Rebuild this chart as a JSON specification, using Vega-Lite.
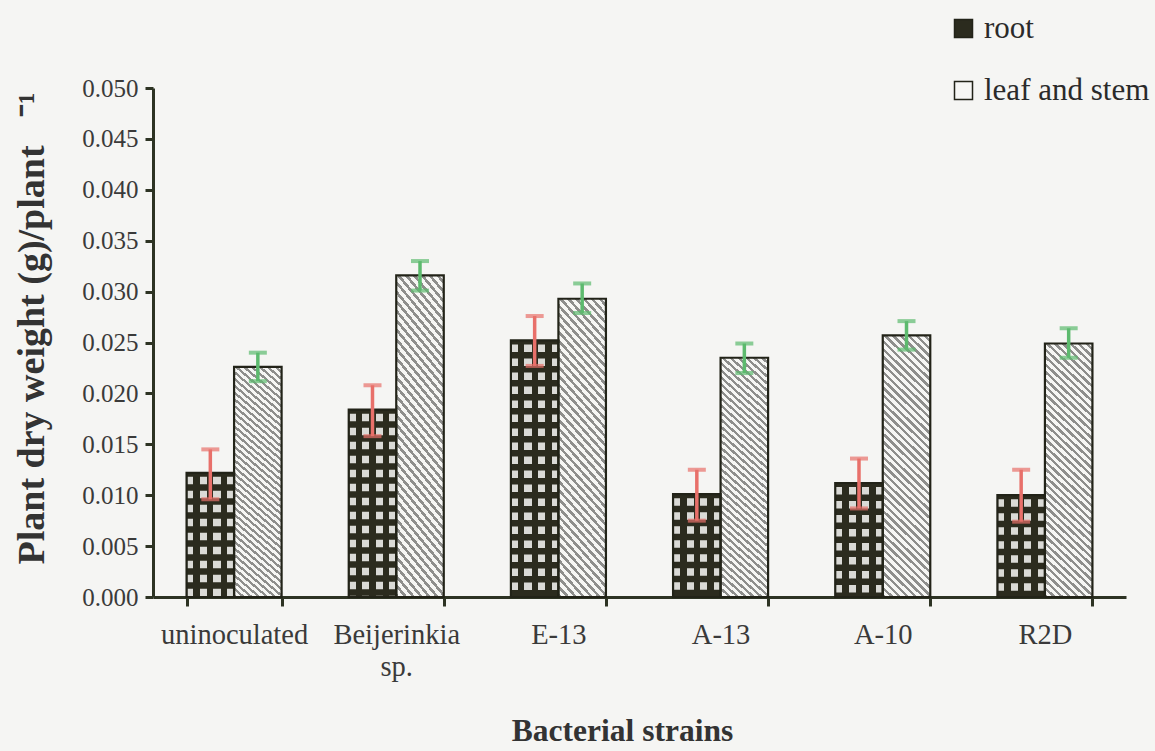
{
  "$schema": "https://vega.github.io/schema/vega-lite/v6.json",
  "width": 973,
  "height": 509,
  "autosize": {"type": "none"},
  "padding": {"left": 153, "top": 88, "right": 29, "bottom": 154},
  "background": "#f5f5f3",
  "config": {
    "view": {"stroke": null},
    "font": "Liberation Serif",
    "axis": {"grid": false, "domainColor": "#2d3323", "tickColor": "#2d3323", "labelColor": "#3a3a3a", "titleColor": "#333333", "labelFont": "Liberation Serif", "titleFont": "Liberation Serif"}
  },
  "data": {
    "values": [
      {"strain": "uninoculated", "part": "root", "value": 0.0122, "lo": 0.0096, "hi": 0.0145},
      {"strain": "uninoculated", "part": "leaf and stem", "value": 0.0226, "lo": 0.0212, "hi": 0.0240},
      {"strain": "Beijerinkia sp.", "part": "root", "value": 0.0184, "lo": 0.0158, "hi": 0.0208},
      {"strain": "Beijerinkia sp.", "part": "leaf and stem", "value": 0.0316, "lo": 0.0301, "hi": 0.0330},
      {"strain": "E-13", "part": "root", "value": 0.0252, "lo": 0.0227, "hi": 0.0276},
      {"strain": "E-13", "part": "leaf and stem", "value": 0.0293, "lo": 0.0279, "hi": 0.0308},
      {"strain": "A-13", "part": "root", "value": 0.0101, "lo": 0.0075, "hi": 0.0125},
      {"strain": "A-13", "part": "leaf and stem", "value": 0.0235, "lo": 0.0220, "hi": 0.0249},
      {"strain": "A-10", "part": "root", "value": 0.0112, "lo": 0.0087, "hi": 0.0136},
      {"strain": "A-10", "part": "leaf and stem", "value": 0.0257, "lo": 0.0243, "hi": 0.0271},
      {"strain": "R2D", "part": "root", "value": 0.0100, "lo": 0.0074, "hi": 0.0125},
      {"strain": "R2D", "part": "leaf and stem", "value": 0.0249, "lo": 0.0235, "hi": 0.0264}
    ]
  },
  "encoding": {
    "x": {
      "field": "strain", "type": "nominal",
      "sort": ["uninoculated", "Beijerinkia sp.", "E-13", "A-13", "A-10", "R2D"],
      "scale": {"paddingInner": 0.414, "paddingOuter": 0.207},
      "axis": {
        "title": "Bacterial strains", "titleFontSize": 31.5, "titleFontWeight": "bold", "titlePadding": 35,
        "titleX": 469, "titleAnchor": "start", "titleAlign": "center",
        "labelFontSize": 28.5, "labelAngle": 0, "labelPadding": 14, "labelLineHeight": 32,
        "labelExpr": "datum.value == 'Beijerinkia sp.' ? ['Beijerinkia', 'sp.'] : datum.value",
        "tickSize": 9, "tickWidth": 3, "tickBand": "extent", "domainWidth": 3
      }
    },
    "xOffset": {"field": "part", "type": "nominal", "sort": ["root", "leaf and stem"], "scale": {"paddingInner": 0}},
    "y": {
      "field": "value", "type": "quantitative",
      "title": "Plant dry weight (g)/plant\u00a0\u00a0\u00a0⁻¹",
      "scale": {"domain": [0, 0.05]},
      "axis": {
        "titleFontSize": 38, "titleFontWeight": "bold", "titlePadding": 30,
        "titleY": 240, "titleAnchor": "start", "titleAlign": "center",
        "values": [0, 0.005, 0.01, 0.015, 0.02, 0.025, 0.03, 0.035, 0.04, 0.045, 0.05],
        "format": ".3f", "labelFontSize": 25, "labelPadding": 7,
        "tickSize": 8, "tickWidth": 3, "domainWidth": 3
      }
    }
  },
  "layer": [
    {
      "mark": {"type": "bar"},
      "encoding": {
        "fill": {
          "field": "part", "type": "nominal",
          "scale": {"domain": ["root", "leaf and stem"], "range": ["#2b2b1e", "#f6f6f4"]},
          "legend": {
            "title": null, "orient": "none", "legendX": 795, "legendY": -75, "direction": "vertical",
            "labelFont": "Liberation Serif", "labelFontSize": 31, "labelColor": "#2a2a2a", "labelOffset": 5, "labelLimit": 400,
            "symbolType": "square", "symbolSize": 324, "symbolStrokeColor": "#222318", "symbolStrokeWidth": 1.5,
            "rowPadding": 30
          }
        }
      }
    },
    {
      "transform": [{"filter": "datum.part == 'root'"}],
      "mark": {"type": "rule", "stroke": "#dadad6", "strokeWidth": 46, "strokeDash": [7.5, 6.5], "strokeDashOffset": 10, "strokeCap": "butt"},
      "encoding": {
        "y2": {"datum": 0}
      }
    },
    {
      "transform": [{"filter": "datum.part == 'root'"}],
      "mark": {
        "type": "bar",
        "fill": {
          "gradient": "linear", "x1": 0, "y1": 0, "x2": 1, "y2": 0,
          "stops": [
            {"offset": 0, "color": "rgba(43,43,30,0)"},
            {"offset": 0.145, "color": "rgba(43,43,30,0)"},
            {"offset": 0.145, "color": "rgba(43,43,30,1)"},
            {"offset": 0.285, "color": "rgba(43,43,30,1)"},
            {"offset": 0.285, "color": "rgba(43,43,30,0)"},
            {"offset": 0.435, "color": "rgba(43,43,30,0)"},
            {"offset": 0.435, "color": "rgba(43,43,30,1)"},
            {"offset": 0.565, "color": "rgba(43,43,30,1)"},
            {"offset": 0.565, "color": "rgba(43,43,30,0)"},
            {"offset": 0.715, "color": "rgba(43,43,30,0)"},
            {"offset": 0.715, "color": "rgba(43,43,30,1)"},
            {"offset": 0.855, "color": "rgba(43,43,30,1)"},
            {"offset": 0.855, "color": "rgba(43,43,30,0)"},
            {"offset": 1, "color": "rgba(43,43,30,0)"}
          ]
        }
      }
    },
    {
      "transform": [{"filter": "datum.part == 'leaf and stem'"}],
      "mark": {
        "type": "bar",
        "fill": {
          "gradient": "linear", "x1": 0, "y1": 1, "x2": 0.203, "y2": -0.142,
          "stops": [
            {"offset": 0, "color": "#8e8e8c"}, {"offset": 0.011, "color": "#8e8e8c"}, {"offset": 0.011, "color": "#f6f6f4"}, {"offset": 0.025, "color": "#f6f6f4"},
            {"offset": 0.025, "color": "#8e8e8c"}, {"offset": 0.036, "color": "#8e8e8c"}, {"offset": 0.036, "color": "#f6f6f4"}, {"offset": 0.05, "color": "#f6f6f4"},
            {"offset": 0.05, "color": "#8e8e8c"}, {"offset": 0.061, "color": "#8e8e8c"}, {"offset": 0.061, "color": "#f6f6f4"}, {"offset": 0.075, "color": "#f6f6f4"},
            {"offset": 0.075, "color": "#8e8e8c"}, {"offset": 0.086, "color": "#8e8e8c"}, {"offset": 0.086, "color": "#f6f6f4"}, {"offset": 0.1, "color": "#f6f6f4"},
            {"offset": 0.1, "color": "#8e8e8c"}, {"offset": 0.111, "color": "#8e8e8c"}, {"offset": 0.111, "color": "#f6f6f4"}, {"offset": 0.125, "color": "#f6f6f4"},
            {"offset": 0.125, "color": "#8e8e8c"}, {"offset": 0.136, "color": "#8e8e8c"}, {"offset": 0.136, "color": "#f6f6f4"}, {"offset": 0.15, "color": "#f6f6f4"},
            {"offset": 0.15, "color": "#8e8e8c"}, {"offset": 0.161, "color": "#8e8e8c"}, {"offset": 0.161, "color": "#f6f6f4"}, {"offset": 0.175, "color": "#f6f6f4"},
            {"offset": 0.175, "color": "#8e8e8c"}, {"offset": 0.186, "color": "#8e8e8c"}, {"offset": 0.186, "color": "#f6f6f4"}, {"offset": 0.2, "color": "#f6f6f4"},
            {"offset": 0.2, "color": "#8e8e8c"}, {"offset": 0.211, "color": "#8e8e8c"}, {"offset": 0.211, "color": "#f6f6f4"}, {"offset": 0.225, "color": "#f6f6f4"},
            {"offset": 0.225, "color": "#8e8e8c"}, {"offset": 0.236, "color": "#8e8e8c"}, {"offset": 0.236, "color": "#f6f6f4"}, {"offset": 0.25, "color": "#f6f6f4"},
            {"offset": 0.25, "color": "#8e8e8c"}, {"offset": 0.261, "color": "#8e8e8c"}, {"offset": 0.261, "color": "#f6f6f4"}, {"offset": 0.275, "color": "#f6f6f4"},
            {"offset": 0.275, "color": "#8e8e8c"}, {"offset": 0.286, "color": "#8e8e8c"}, {"offset": 0.286, "color": "#f6f6f4"}, {"offset": 0.3, "color": "#f6f6f4"},
            {"offset": 0.3, "color": "#8e8e8c"}, {"offset": 0.311, "color": "#8e8e8c"}, {"offset": 0.311, "color": "#f6f6f4"}, {"offset": 0.325, "color": "#f6f6f4"},
            {"offset": 0.325, "color": "#8e8e8c"}, {"offset": 0.336, "color": "#8e8e8c"}, {"offset": 0.336, "color": "#f6f6f4"}, {"offset": 0.35, "color": "#f6f6f4"},
            {"offset": 0.35, "color": "#8e8e8c"}, {"offset": 0.361, "color": "#8e8e8c"}, {"offset": 0.361, "color": "#f6f6f4"}, {"offset": 0.375, "color": "#f6f6f4"},
            {"offset": 0.375, "color": "#8e8e8c"}, {"offset": 0.386, "color": "#8e8e8c"}, {"offset": 0.386, "color": "#f6f6f4"}, {"offset": 0.4, "color": "#f6f6f4"},
            {"offset": 0.4, "color": "#8e8e8c"}, {"offset": 0.411, "color": "#8e8e8c"}, {"offset": 0.411, "color": "#f6f6f4"}, {"offset": 0.425, "color": "#f6f6f4"},
            {"offset": 0.425, "color": "#8e8e8c"}, {"offset": 0.436, "color": "#8e8e8c"}, {"offset": 0.436, "color": "#f6f6f4"}, {"offset": 0.45, "color": "#f6f6f4"},
            {"offset": 0.45, "color": "#8e8e8c"}, {"offset": 0.461, "color": "#8e8e8c"}, {"offset": 0.461, "color": "#f6f6f4"}, {"offset": 0.475, "color": "#f6f6f4"},
            {"offset": 0.475, "color": "#8e8e8c"}, {"offset": 0.486, "color": "#8e8e8c"}, {"offset": 0.486, "color": "#f6f6f4"}, {"offset": 0.5, "color": "#f6f6f4"},
            {"offset": 0.5, "color": "#8e8e8c"}, {"offset": 0.511, "color": "#8e8e8c"}, {"offset": 0.511, "color": "#f6f6f4"}, {"offset": 0.525, "color": "#f6f6f4"},
            {"offset": 0.525, "color": "#8e8e8c"}, {"offset": 0.536, "color": "#8e8e8c"}, {"offset": 0.536, "color": "#f6f6f4"}, {"offset": 0.55, "color": "#f6f6f4"},
            {"offset": 0.55, "color": "#8e8e8c"}, {"offset": 0.561, "color": "#8e8e8c"}, {"offset": 0.561, "color": "#f6f6f4"}, {"offset": 0.575, "color": "#f6f6f4"},
            {"offset": 0.575, "color": "#8e8e8c"}, {"offset": 0.586, "color": "#8e8e8c"}, {"offset": 0.586, "color": "#f6f6f4"}, {"offset": 0.6, "color": "#f6f6f4"},
            {"offset": 0.6, "color": "#8e8e8c"}, {"offset": 0.611, "color": "#8e8e8c"}, {"offset": 0.611, "color": "#f6f6f4"}, {"offset": 0.625, "color": "#f6f6f4"},
            {"offset": 0.625, "color": "#8e8e8c"}, {"offset": 0.636, "color": "#8e8e8c"}, {"offset": 0.636, "color": "#f6f6f4"}, {"offset": 0.65, "color": "#f6f6f4"},
            {"offset": 0.65, "color": "#8e8e8c"}, {"offset": 0.661, "color": "#8e8e8c"}, {"offset": 0.661, "color": "#f6f6f4"}, {"offset": 0.675, "color": "#f6f6f4"},
            {"offset": 0.675, "color": "#8e8e8c"}, {"offset": 0.686, "color": "#8e8e8c"}, {"offset": 0.686, "color": "#f6f6f4"}, {"offset": 0.7, "color": "#f6f6f4"},
            {"offset": 0.7, "color": "#8e8e8c"}, {"offset": 0.711, "color": "#8e8e8c"}, {"offset": 0.711, "color": "#f6f6f4"}, {"offset": 0.725, "color": "#f6f6f4"},
            {"offset": 0.725, "color": "#8e8e8c"}, {"offset": 0.736, "color": "#8e8e8c"}, {"offset": 0.736, "color": "#f6f6f4"}, {"offset": 0.75, "color": "#f6f6f4"},
            {"offset": 0.75, "color": "#8e8e8c"}, {"offset": 0.761, "color": "#8e8e8c"}, {"offset": 0.761, "color": "#f6f6f4"}, {"offset": 0.775, "color": "#f6f6f4"},
            {"offset": 0.775, "color": "#8e8e8c"}, {"offset": 0.786, "color": "#8e8e8c"}, {"offset": 0.786, "color": "#f6f6f4"}, {"offset": 0.8, "color": "#f6f6f4"},
            {"offset": 0.8, "color": "#8e8e8c"}, {"offset": 0.811, "color": "#8e8e8c"}, {"offset": 0.811, "color": "#f6f6f4"}, {"offset": 0.825, "color": "#f6f6f4"},
            {"offset": 0.825, "color": "#8e8e8c"}, {"offset": 0.836, "color": "#8e8e8c"}, {"offset": 0.836, "color": "#f6f6f4"}, {"offset": 0.85, "color": "#f6f6f4"},
            {"offset": 0.85, "color": "#8e8e8c"}, {"offset": 0.861, "color": "#8e8e8c"}, {"offset": 0.861, "color": "#f6f6f4"}, {"offset": 0.875, "color": "#f6f6f4"},
            {"offset": 0.875, "color": "#8e8e8c"}, {"offset": 0.886, "color": "#8e8e8c"}, {"offset": 0.886, "color": "#f6f6f4"}, {"offset": 0.9, "color": "#f6f6f4"},
            {"offset": 0.9, "color": "#8e8e8c"}, {"offset": 0.911, "color": "#8e8e8c"}, {"offset": 0.911, "color": "#f6f6f4"}, {"offset": 0.925, "color": "#f6f6f4"},
            {"offset": 0.925, "color": "#8e8e8c"}, {"offset": 0.936, "color": "#8e8e8c"}, {"offset": 0.936, "color": "#f6f6f4"}, {"offset": 0.95, "color": "#f6f6f4"},
            {"offset": 0.95, "color": "#8e8e8c"}, {"offset": 0.961, "color": "#8e8e8c"}, {"offset": 0.961, "color": "#f6f6f4"}, {"offset": 0.975, "color": "#f6f6f4"},
            {"offset": 0.975, "color": "#8e8e8c"}, {"offset": 0.986, "color": "#8e8e8c"}, {"offset": 0.986, "color": "#f6f6f4"}, {"offset": 1, "color": "#f6f6f4"}
          ]
        }
      }
    },
    {
      "mark": {"type": "bar", "fill": "transparent", "stroke": "#222318", "strokeWidth": 2.2}
    },
    {
      "mark": {"type": "rule", "strokeWidth": 3.5},
      "encoding": {
        "y": {"field": "lo", "type": "quantitative", "title": "Plant dry weight (g)/plant\u00a0\u00a0\u00a0⁻¹"},
        "y2": {"field": "hi"},
        "color": {"condition": {"test": "datum.part == 'root'", "value": "#e8706a"}, "value": "#5dba6e"}
      }
    },
    {
      "mark": {"type": "tick", "orient": "horizontal", "thickness": 4, "size": 18},
      "encoding": {
        "y": {"field": "lo", "type": "quantitative", "title": "Plant dry weight (g)/plant\u00a0\u00a0\u00a0⁻¹"},
        "color": {"condition": {"test": "datum.part == 'root'", "value": "#e8706a"}, "value": "#5dba6e"}
      }
    },
    {
      "mark": {"type": "tick", "orient": "horizontal", "thickness": 4, "size": 18},
      "encoding": {
        "y": {"field": "hi", "type": "quantitative", "title": "Plant dry weight (g)/plant\u00a0\u00a0\u00a0⁻¹"},
        "color": {"condition": {"test": "datum.part == 'root'", "value": "#e8706a"}, "value": "#5dba6e"}
      }
    }
  ]
}
